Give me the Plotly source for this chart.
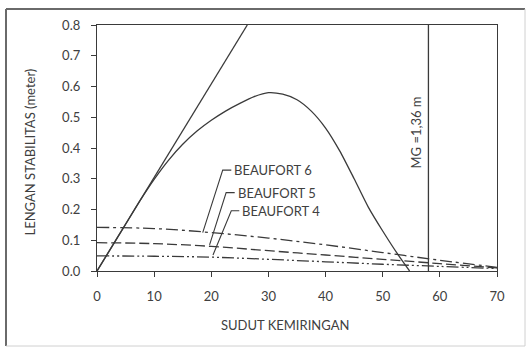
import plotly.graph_objects as go

# ---- data ----
gz_x = [0, 2.5, 5, 7.5, 10, 12.5, 15, 17.5, 20, 22.5, 25, 27.5, 30, 32.5, 35,
        37.5, 40, 42.5, 45, 47.5, 50, 52.5, 54.7]
gz_y = [0, 0.076, 0.152, 0.228, 0.298, 0.36, 0.412, 0.455, 0.49, 0.52, 0.545,
        0.567, 0.58, 0.575, 0.557, 0.52, 0.465, 0.39, 0.30, 0.207, 0.13, 0.058, 0.0]

tangent_x = [0, 26.3]
tangent_y = [0, 0.8]

bf_x = [0, 10, 20, 30, 40, 50, 60, 70]
bf6_y = [0.142, 0.138, 0.125, 0.107, 0.085, 0.060, 0.035, 0.012]
bf5_y = [0.092, 0.089, 0.080, 0.066, 0.052, 0.038, 0.024, 0.010]
bf4_y = [0.049, 0.048, 0.045, 0.038, 0.030, 0.022, 0.015, 0.008]

mg_angle = 58
mg_label = "MG =1,36 m"

x_ticks = [0, 10, 20, 30, 40, 50, 60, 70]
y_ticks = [0.0, 0.1, 0.2, 0.3, 0.4, 0.5, 0.6, 0.7, 0.8]

LINE = "#3a3a3a"
TEXT = "#404040"
FONT = "Lato"

fig = go.Figure()
fig.add_trace(go.Scatter(x=tangent_x, y=tangent_y, mode="lines",
                         line=dict(color=LINE, width=1.3)))
fig.add_trace(go.Scatter(x=gz_x, y=gz_y, mode="lines", line_shape="spline",
                         line=dict(color=LINE, width=1.3, smoothing=0.6)))
fig.add_trace(go.Scatter(x=bf_x, y=bf6_y, mode="lines", line_shape="spline",
                         line=dict(color=LINE, width=1.3, dash="12px,4px,3px,4px")))
fig.add_trace(go.Scatter(x=bf_x, y=bf5_y, mode="lines", line_shape="spline",
                         line=dict(color=LINE, width=1.3, dash="10px,4px")))
fig.add_trace(go.Scatter(x=bf_x, y=bf4_y, mode="lines", line_shape="spline",
                         line=dict(color=LINE, width=1.3, dash="12px,3px,2px,3px,2px,3px")))
fig.add_trace(go.Scatter(x=[mg_angle, mg_angle], y=[0, 0.8], mode="lines",
                         line=dict(color=LINE, width=1.3)))

# leader lines for labels
leaders = [
    ([23.5, 22.0, 18.5], [0.328, 0.328, 0.125]),
    ([24.1, 22.6, 19.7], [0.255, 0.255, 0.085]),
    ([24.9, 23.5, 20.3], [0.196, 0.196, 0.052]),
]
for lx, ly in leaders:
    fig.add_trace(go.Scatter(x=lx, y=ly, mode="lines",
                             line=dict(color=LINE, width=1.1)))

labels = [("BEAUFORT 6", 0.328), ("BEAUFORT 5", 0.255), ("BEAUFORT 4", 0.196)]
lab_x = [23.7, 24.3, 25.1]
for (t, yv), xv in zip(labels, lab_x):
    fig.add_annotation(x=xv, y=yv, text=t, showarrow=False, xanchor="left",
                       yanchor="middle", font=dict(family=FONT, size=13, color=TEXT))

fig.add_annotation(x=55.8, y=0.45, text=mg_label, textangle=-90, showarrow=False,
                   xanchor="center", yanchor="middle",
                   font=dict(family=FONT, size=13, color=TEXT))

# axis titles
fig.add_annotation(x=0.47, y=-0.22, xref="paper", yref="paper", text="SUDUT KEMIRINGAN",
                   showarrow=False, xanchor="center", yanchor="middle",
                   font=dict(family=FONT, size=13, color=TEXT))
fig.add_annotation(x=-0.168, y=0.485, xref="paper", yref="paper",
                   text="LENGAN STABILITAS (meter)", textangle=-90,
                   showarrow=False, xanchor="center", yanchor="middle",
                   font=dict(family=FONT, size=13, color=TEXT))

# outer frame (dark top/left, light right/bottom)
fig.add_shape(type="line", xref="paper", yref="paper", x0=-0.2275, x1=1.07, y0=1.065, y1=1.065,
              line=dict(color="#6a6a6a", width=2))
fig.add_shape(type="line", xref="paper", yref="paper", x0=-0.2275, x1=-0.2275, y0=1.065, y1=-0.305,
              line=dict(color="#6a6a6a", width=2))
fig.add_shape(type="line", xref="paper", yref="paper", x0=1.07, x1=1.07, y0=1.065, y1=-0.305,
              line=dict(color="#d0d0d0", width=1))
fig.add_shape(type="line", xref="paper", yref="paper", x0=-0.2275, x1=1.07, y0=-0.305, y1=-0.305,
              line=dict(color="#d0d0d0", width=1))

fig.update_layout(
    width=526, height=347,
    margin=dict(l=97, r=29, t=25, b=76),
    paper_bgcolor="white", plot_bgcolor="white",
    showlegend=False,
    font=dict(family=FONT, size=13, color=TEXT),
)
fig.update_xaxes(range=[0, 70], tickvals=x_ticks, ticks="outside", ticklen=5,
                 tickcolor=LINE, showline=True, linecolor=LINE, linewidth=1.3,
                 mirror=True, showgrid=False, zeroline=False,
                 tickfont=dict(family=FONT, size=13, color=TEXT), ticklabelstandoff=8)
fig.update_yaxes(range=[0, 0.8], tickvals=y_ticks, tickformat=".1f", ticks="outside",
                 ticklen=5, tickcolor=LINE, showline=True, linecolor=LINE, linewidth=1.3,
                 mirror=True, showgrid=False, zeroline=False,
                 tickfont=dict(family=FONT, size=13, color=TEXT), ticklabelstandoff=8)

fig.write_html("out.html")
